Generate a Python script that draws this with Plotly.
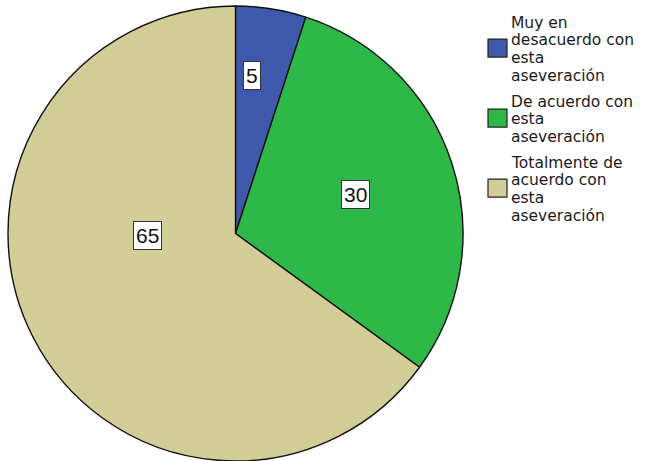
import math
import plotly.graph_objects as go

# ---- data ----
categories = [
    "Muy en desacuerdo con esta aseveración",
    "De acuerdo con esta aseveración",
    "Totalmente de acuerdo con esta aseveración",
]
legend_lines = [
    ["Muy en", "desacuerdo con", "esta", "aseveración"],
    ["De acuerdo con", "esta", "aseveración"],
    ["Totalmente de", "acuerdo con", "esta", "aseveración"],
]
values = [5, 30, 65]
colors = ["#3E58AC", "#2EB848", "#D3CE97"]

# ---- layout constants ----
W, H = 650, 461
pie_left, pie_top, pie_size = 8, 6, 455
label_r = [0.70, 0.553, 0.388]        # label distance as fraction of radius
label_shift = [-3.1, 0.0, 25.4]       # angular nudge of label (deg)

fig = go.Figure()
fig.add_trace(go.Pie(
    labels=categories,
    values=values,
    sort=False,
    direction="clockwise",
    rotation=0,
    textinfo="none",
    hoverinfo="label+value",
    marker=dict(colors=colors, line=dict(color="#111111", width=1.4)),
    domain=dict(x=[pie_left / W, (pie_left + pie_size) / W],
                y=[1 - (pie_top + pie_size) / H, 1 - pie_top / H]),
    showlegend=False,
))

annotations = []
shapes = []

# value labels in white boxes
cx = pie_left + pie_size / 2
cy = pie_top + pie_size / 2
R = pie_size / 2
total = sum(values)
cum = 0
for v, rf, sh in zip(values, label_r, label_shift):
    mid = (cum + v / 2) / total * 360 + sh
    cum += v
    px = cx + rf * R * math.sin(math.radians(mid))
    py = cy - rf * R * math.cos(math.radians(mid))
    annotations.append(dict(
        x=px / W, y=1 - py / H, xref="paper", yref="paper",
        text=str(v), showarrow=False, xanchor="center", yanchor="middle",
        font=dict(family="Liberation Sans, Arial", size=21, color="#111111"),
        bgcolor="white", bordercolor="#333333", borderwidth=1, borderpad=2,
    ))

# custom legend
fs = 15.5
line_h = 17.8
entry_gap = 7.7
text_x = 510
sq_x0, sq_x1 = 488, 507
baseline = 28
for lines, col in zip(legend_lines, colors):
    for j, t in enumerate(lines):
        b = baseline + j * line_h
        annotations.append(dict(
            x=text_x / W, y=1 - (b - 0.346 * fs) / H, xref="paper", yref="paper",
            text=t, showarrow=False, xanchor="left", yanchor="middle",
            font=dict(family="DejaVu Sans", size=fs, color="#1a1a1a"),
            borderpad=0,
        ))
    block_top = baseline - 0.73 * fs
    block_bottom = baseline + (len(lines) - 1) * line_h
    c = (block_top + block_bottom) / 2 - 1
    shapes.append(dict(
        type="rect", xref="paper", yref="paper",
        x0=sq_x0 / W, x1=sq_x1 / W, y0=1 - (c + 9) / H, y1=1 - (c - 9) / H,
        fillcolor=col, line=dict(color="#222222", width=1.2),
    ))
    baseline = block_bottom + line_h + entry_gap

fig.update_layout(
    width=W, height=H,
    margin=dict(l=0, r=0, t=0, b=0),
    paper_bgcolor="white", plot_bgcolor="white",
    showlegend=False,
    annotations=annotations,
    shapes=shapes,
)

fig.write_html("out.html")
